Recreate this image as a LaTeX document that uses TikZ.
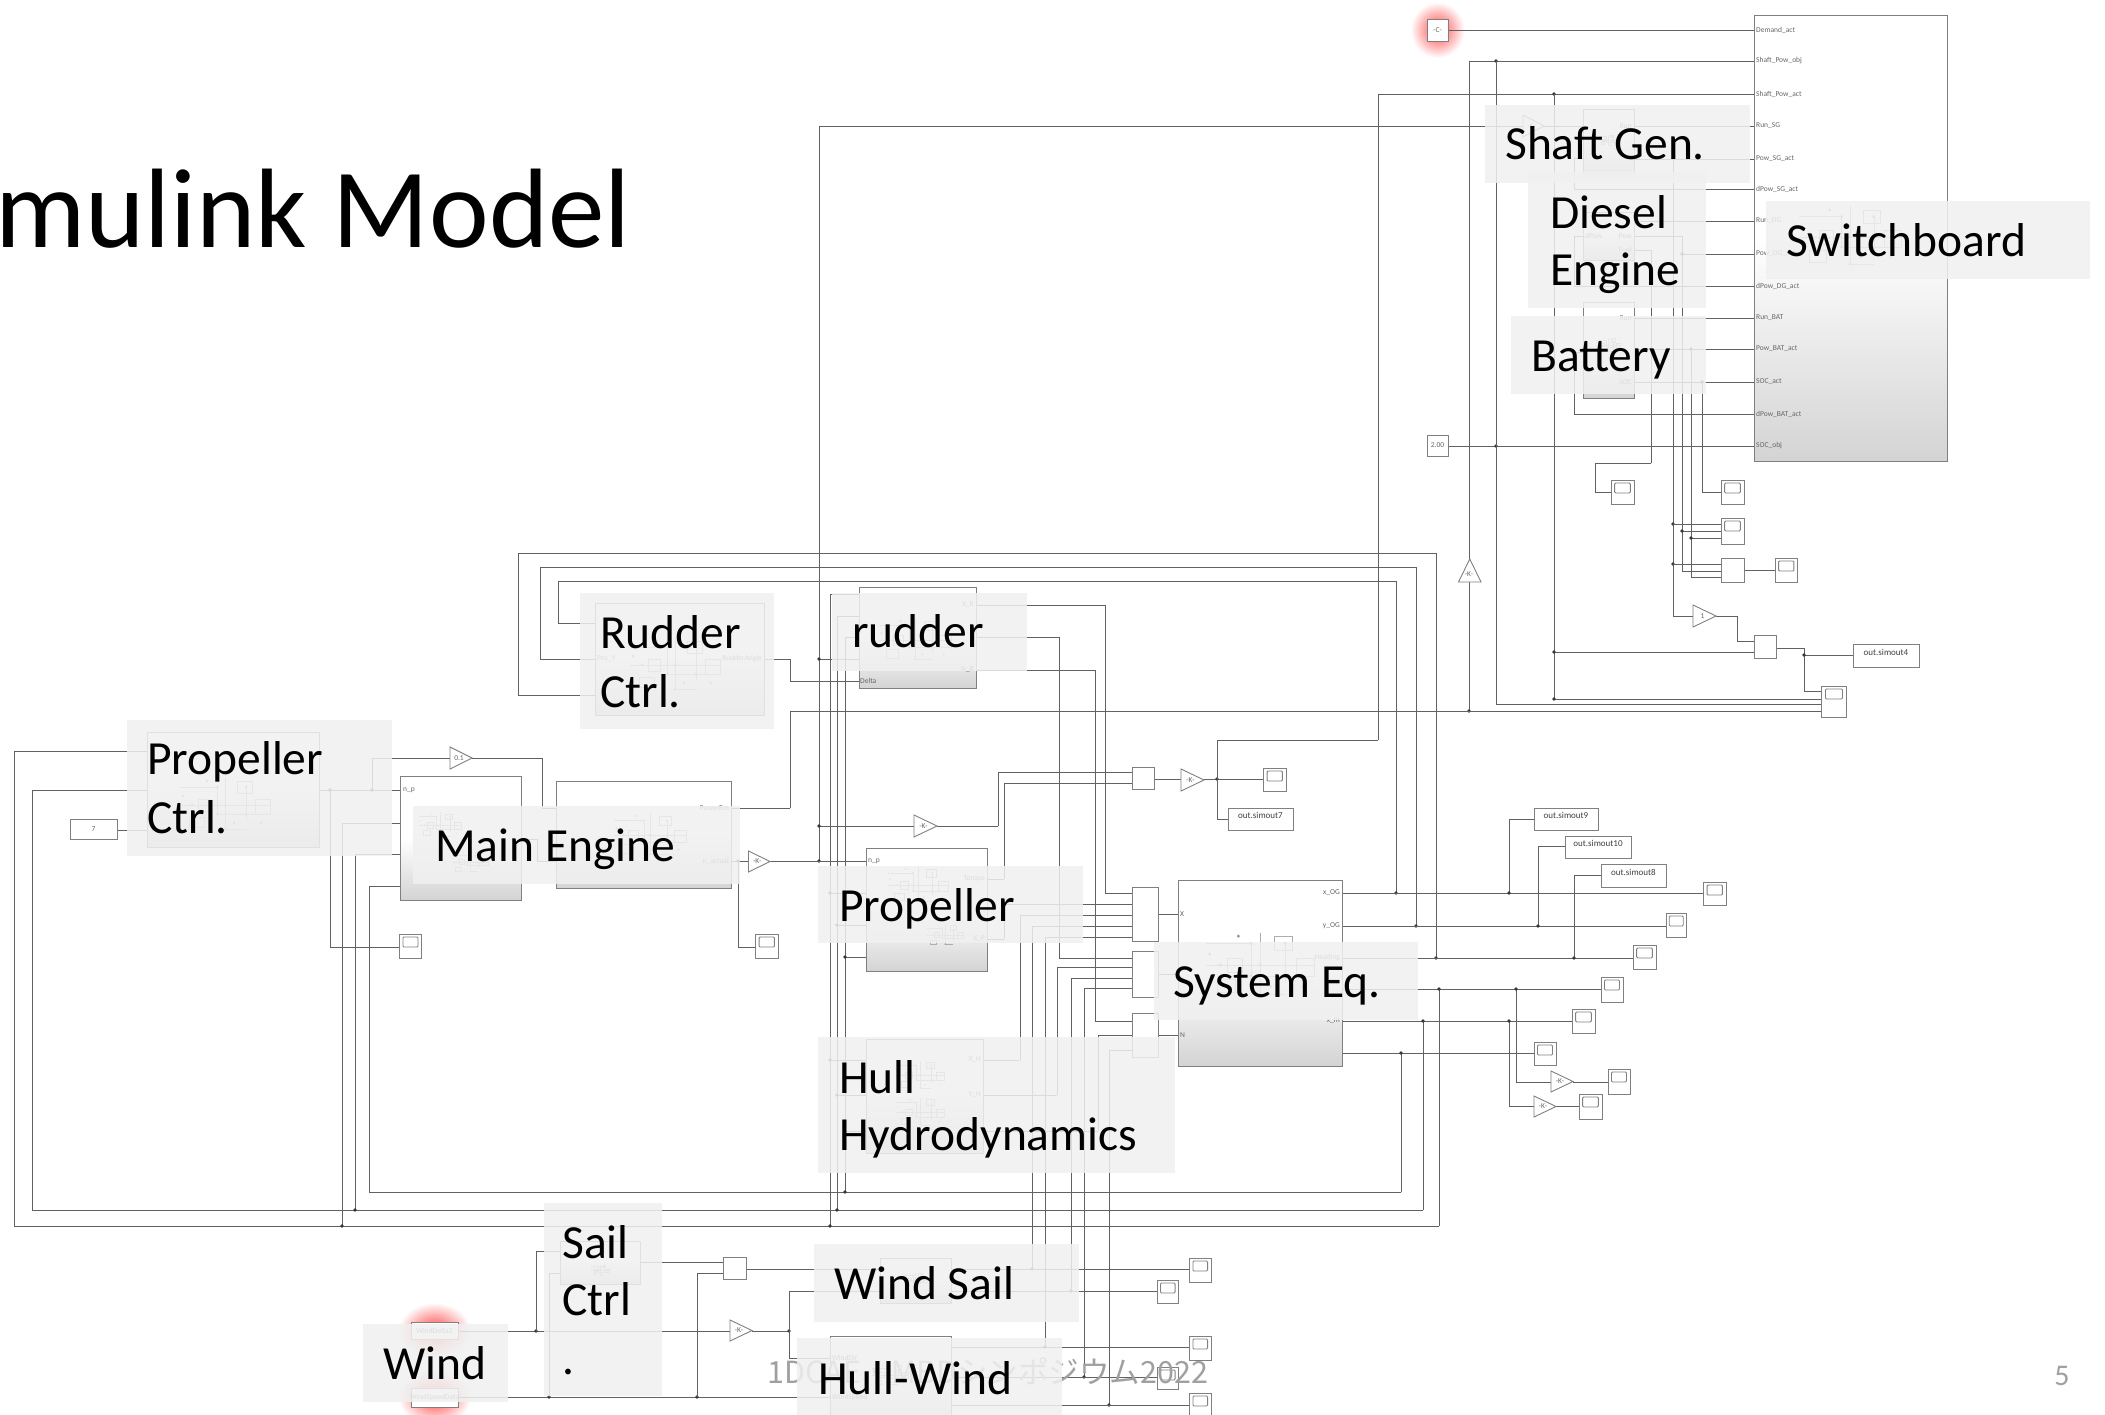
\documentclass[tikz,border=0pt]{standalone}
\usepackage{fontspec}
\setmainfont{Carlito}
\newfontfamily\cjk{Noto Sans CJK JP}
\usetikzlibrary{fit,calc}
\pgfdeclarelayer{wirelayer}
\pgfdeclarelayer{glowlayer}
\pgfsetlayers{glowlayer,wirelayer,main}
\definecolor{shd}{HTML}{F0F0F0}
\definecolor{ftr}{HTML}{A0A0A0}
\tikzset{
  sub/.style={draw=black!50,line width=.9pt,inner sep=0pt,outer sep=0pt,top color=white,bottom color=black!17,middle color=white},
  plainblk/.style={draw=black!50,line width=.9pt,fill=white,inner sep=0pt,outer sep=0pt},
  ghost/.style={inner sep=0pt,outer sep=0pt},
  blockedge/.style={draw=black!50,line width=.9pt,fill=white},
  wire/.style={draw=black!62,line width=.95pt,line cap=rect},
  dotc/.style={fill=black!78},
  faint/.style={draw=black!32,line width=.5pt},
  shade box/.style={fill=shd,fill opacity=.86,draw=none},
  lab/.style={font=\fontsize{47.5}{58}\selectfont,text=black,inner sep=0pt,anchor=base west,xshift=-1pt,yshift=-1.5pt},
  tiny/.style={font=\fontsize{7.5}{8}\selectfont,text=black!60,inner sep=0pt},
  blocktxt/.style={font=\fontsize{9}{10}\selectfont,text=black!75},
}
\newcommand\Blk[5][sub]{\node[#1,fit={(#3)(#4)}] (#2) {#5};}
\newcommand\Scp[3]{\node[plainblk,fit={(#2)(#3)}] (#1) {};
  \draw[draw=black!50,line width=.9pt,rounded corners=1pt] ($(#1.north west)!.16!(#1.north east)+(0,3)$) rectangle ($(#1.north east)!.16!(#1.north west)+(0,13)$);}
\newcommand\Gain[4]{\node[ghost,fit={(#2)(#3)}] (#1) {};
  \draw[blockedge] (#1.north west) -- (#1.east) -- (#1.south west) -- cycle;
  \node[tiny] (#1t) at ($(#1.center)+(-2,0)$) {#4};}
\newcommand\HL[3]{\draw[wire] (#1 |- 0,#3) -- (#2 |- 0,#3);}
\newcommand\VL[3]{\draw[wire] (#1 |- 0,#2) -- (#1 |- 0,#3);}
\newcommand\DT[2]{\fill[dotc] (#1 |- 0,#2) circle (1.9pt);}
% faint preview of a subsystem's inside
\newcommand\Inner[3]{\begin{scope}[shift={(#1,#2)},scale=#3]
  \draw[faint] (-30,-12) -- (-5,-12) -- (-5,6) -- (20,6) (-30,0) -- (30,0) (0,-18) -- (0,16) -- (14,16) (14,-12) -- (14,10);
  \draw[faint] (-18,-4) rectangle (-10,4) (8,-16) rectangle (18,-8) (20,-4) rectangle (30,6) (-24,8) rectangle (-14,15);
  \foreach \p in {(-5,-12),(0,0),(-5,6),(0,16),(14,-12),(-22,0),(14,6),(-28,-6),(6,12),(24,12),(-12,-16)}
    {\fill[black!42] \p circle (.9pt);}
\end{scope}}
\begin{document}
\begin{tikzpicture}[x=1pt,y=-1pt]
\useasboundingbox (0,0) rectangle (2105,1415);
\clip (0,0) rectangle (2105,1415);

% ---- bus positions
\foreach \v in {14,32,330,342,355,369,372,518,536,537,540,542,549,558,697,738,789,790,819,830,837,845,998,1004,1020,1032,1045,1057,1059,1071,1084,1095,1098,1105,1109,1217,1378,1396,1401,1416,1423,1436,1439,1469,1496,1509,1516,1538,1554,1574,1595,1651,1673,1682,1691,1702,1737,1804}
  {\coordinate (x\v) at (\v,0);}

% ---- blocks
\Blk{sb}{1754,15}{1947,461}{}
\Blk{sg}{1583,109}{1634,174}{}
\Blk{dg}{1583,212}{1634,260}{}
\Blk{bt}{1583,302}{1634,398}{}
\Blk{rc}{595,603}{764,715}{}
\Blk{rd}{859,587}{976,688}{}
\Blk{pc}{147.5,732}{319,847}{}
\Blk{meA}{400.5,776}{521.5,900}{}
\Blk{meB}{556,781}{731.5,888}{}
\Blk{pr}{866,848}{987,971}{}
\Blk{hl}{866,1039}{983.5,1153}{}
\Blk{sq}{1178,880}{1342,1066}{}
\Blk{sc}{560,1241}{640,1284}{}
\Blk{ws}{880,1258}{951,1303}{}
\Blk{hw}{830,1336}{951,1430}{}
\Blk[plainblk]{ca}{1427,19}{1448,41}{}
\Blk[plainblk]{cb}{1427,435}{1448,456}{}
\Blk[plainblk]{ck}{70,819}{117,839}{}
\Blk[plainblk]{wa}{411,1322}{458,1339}{}
\Blk[plainblk]{wb}{411,1388}{458,1407}{}
\Blk[plainblk]{mx}{1132,767}{1154.5,789}{}
\Blk[plainblk]{ma}{1132.5,887}{1158,941}{}
\Blk[plainblk]{mb}{1132.5,951}{1158,997}{}
\Blk[plainblk]{mc}{1132.5,1013}{1158,1057}{}
\Blk[plainblk]{md}{723.5,1257}{746,1279}{}
\Blk[plainblk]{sm}{1721,558}{1744,582}{}
\Blk[plainblk]{se}{1754,635}{1776,658}{}
\Blk[plainblk,blocktxt]{oa}{1853,644}{1919,667}{out.simout4}
\Blk[plainblk,blocktxt]{ob}{1534,808}{1598,830}{out.simout9}
\Blk[plainblk,blocktxt]{oc}{1565,836}{1631,858}{out.simout10}
\Blk[plainblk,blocktxt]{od}{1601,864}{1666,887}{out.simout8}
\Blk[plainblk,blocktxt]{oe}{1228,808}{1293,830}{out.simout7}
\Scp{sa}{1611,480}{1634,504}
\Scp{sB}{1721,480}{1744,504}
\Scp{sC}{1721,518}{1744,544}
\Scp{sD}{1775,558}{1797.5,582}
\Scp{sE}{1821.5,686}{1846.5,717}
\Scp{sF}{1633,945}{1656,969}
\Scp{sG}{1666,913}{1686.5,937}
\Scp{sH}{1703.5,882}{1726,905}
\Scp{sI}{1601,977}{1623,1002}
\Scp{sJ}{1572,1009}{1595,1033}
\Scp{sK}{1534,1042}{1556,1065}
\Scp{sL}{1608,1069}{1630,1094}
\Scp{sM}{1579,1094}{1602,1119}
\Scp{sN}{399.5,934}{421.5,958}
\Scp{sO}{755.5,934}{778,958}
\Scp{sP}{1263.5,768}{1286,791}
\Scp{sQ}{1189.5,1258}{1211,1282}
\Scp{sR}{1157,1280}{1178.5,1303}
\Scp{sS}{1189.5,1336}{1211,1360}
\Scp{sT}{1157,1367}{1178.5,1389}
\Scp{sU}{1189.5,1393}{1211,1417}
\Gain{ga}{1523,115}{1544,137}{-K-}
\Gain{gb}{1693,605}{1716,627}{1}
\Gain{gc}{450,747}{472,769}{0.1}
\Gain{gd}{748.5,851}{770,872}{-K-}
\Gain{ge}{914,815}{937,837}{-K-}
\Gain{gf}{1181,769}{1204,791}{-K-}
\Gain{gg}{1551,1071}{1573,1092}{-K-}
\Gain{gh}{1534,1096}{1556,1117}{-K-}
\Gain{gi}{730,1320}{752,1341}{-K-}
\node[ghost,fit={(1458.5,559)(1481,582)}] (gj) {};
\draw[blockedge] (gj.south west) -- (gj.north) -- (gj.south east) -- cycle;
\node[tiny] (gjt) at (1469,574) {-K-};

% ---- inside previews
\Inner{1850}{237}{1.7}
\Inner{1260}{965}{1.8}
\Inner{440}{825}{.7}
\Inner{470}{862}{.6}
\Inner{650}{835}{1.2}
\Inner{225}{805}{1.5}
\Inner{675}{665}{1.5}
\Inner{915}{640}{1.2}
\Inner{918}{885}{1}
\Inner{945}{935}{.6}
\Inner{920}{1075}{.8}
\Inner{920}{1112}{.8}
\Inner{1608}{140}{.3}
\Inner{1608}{345}{.4}
\Inner{915}{1280}{.4}
\Inner{890}{1375}{.6}
\Inner{600}{1270}{.3}

% ---- glows
\begin{pgfonlayer}{glowlayer}
\fill[white] (0,0) rectangle (2105,1415);
\shade[inner color=red!72,outer color=white] (ca.center) ellipse (27pt and 28pt);
\shade[inner color=red!72,outer color=white] (wa.center) ellipse (36pt and 28pt);
\shade[inner color=red!72,outer color=white] (wb.center) ellipse (36pt and 28pt);
\end{pgfonlayer}

% ---- wires
\begin{pgfonlayer}{wirelayer}
% switchboard inputs
\HL{ca.east}{sb.west}{30}
\HL{x1469}{sb.west}{61} \DT{x1496}{61}
\HL{x1378}{sb.west}{94} \DT{x1554}{94}
\HL{x819}{ga.west}{126} \HL{ga.east}{sg.west}{126} \HL{sg.east}{sb.west}{126}
\HL{sg.east}{sb.west}{159}
\HL{x1574}{sg.west}{158} \VL{x1574}{158}{189} \HL{x1574}{sb.west}{189}
\HL{dg.east}{sb.west}{221}
\HL{dg.east}{x1682}{236} \VL{x1682}{236}{571} \HL{x1682}{sb.west}{254} \DT{x1682}{254}
\HL{x1574}{dg.west}{236} \VL{x1574}{236}{286} \HL{x1574}{sb.west}{286}
\HL{dg.east}{x1651}{250} \VL{x1651}{250}{463} \HL{x1595}{x1651}{463} \VL{x1595}{463}{492} \HL{x1595}{sa.west}{492}
\HL{bt.east}{sb.west}{318}
\HL{bt.east}{sb.west}{349} \DT{x1691}{349} \VL{x1691}{349}{577}
\HL{bt.east}{sb.west}{382} \DT{x1702}{382} \VL{x1702}{382}{492} \HL{x1702}{sB.west}{492}
\VL{x1574}{352}{414} \HL{x1574}{bt.west}{352} \HL{x1574}{sb.west}{414}
\HL{cb.east}{sb.west}{446} \DT{x1496}{446}
% verticals to the big scope
\VL{x1469}{61}{711} \DT{x1469}{711}
\VL{x1496}{61}{704} \HL{x1496}{sE.west}{704}
\VL{x1554}{94}{699} \HL{x1554}{sE.west}{699} \DT{x1554}{699}
\VL{x1673}{159}{616} \DT{x1673}{524} \DT{x1673}{564}
\HL{x1673}{sC.west}{524} \HL{x1682}{sC.west}{531} \DT{x1682}{531} \HL{x1691}{sC.west}{538} \DT{x1691}{538}
\HL{x1673}{sm.west}{564} \HL{x1682}{sm.west}{571} \HL{x1691}{sm.west}{577}
\HL{sm.east}{sD.west}{570}
\HL{x1673}{gb.west}{616} \HL{gb.east}{x1737}{616} \VL{x1737}{616}{641} \HL{x1737}{se.west}{641}
\HL{x1554}{se.west}{652} \DT{x1554}{652}
\HL{se.east}{x1804}{648} \VL{x1804}{648}{691} \HL{x1804}{sE.west}{691} \HL{x1804}{oa.west}{655} \DT{x1804}{655}
% long line
\HL{x790}{sE.west}{711} \VL{x790}{711}{808} \HL{meB.east}{x790}{808}
% feedback loops, top
\HL{x518}{x1436}{553} \VL{x518}{553}{695} \HL{x518}{rc.west}{695} \VL{x1436}{553}{958} \DT{x1436}{958}
\HL{x540}{x1416}{567} \VL{x540}{567}{659} \HL{x540}{rc.west}{659} \VL{x1416}{567}{926} \DT{x1416}{926}
\HL{x558}{x1396}{581} \VL{x558}{581}{623} \HL{x558}{rc.west}{623} \VL{x1396}{581}{893} \DT{x1396}{893}
% system outputs
\HL{sq.east}{sH.west}{893} \HL{sq.east}{sG.west}{926} \HL{sq.east}{sF.west}{958}
\HL{sq.east}{sI.west}{989} \HL{sq.east}{sJ.west}{1021} \HL{sq.east}{sK.west}{1053}
\VL{x1509}{819}{893} \HL{x1509}{ob.west}{819} \DT{x1509}{893}
\VL{x1538}{846}{926} \HL{x1538}{oc.west}{846} \DT{x1538}{926}
\VL{x1574}{875}{958} \HL{x1574}{od.west}{875} \DT{x1574}{958}
\VL{x1516}{989}{1082} \DT{x1516}{989} \HL{x1516}{gg.west}{1082} \HL{gg.east}{sL.west}{1082}
\VL{x1509}{1021}{1106} \DT{x1509}{1021} \HL{x1509}{gh.west}{1106} \HL{gh.east}{sM.west}{1106}
% bottom loops
\VL{x1401}{1053}{1192} \DT{x1401}{1053} \HL{x369}{x1401}{1192} \VL{x369}{886}{1192} \HL{x369}{meA.west}{886}
\VL{x1423}{1021}{1210} \DT{x1423}{1021} \HL{x32}{x1423}{1210} \VL{x355}{854}{1210} \HL{x355}{meA.west}{854} \DT{x355}{1210}
\VL{x1439}{989}{1226} \DT{x1439}{989} \HL{x14}{x1439}{1226} \VL{x342}{823}{1226} \HL{x342}{meA.west}{823} \DT{x342}{1226}
\VL{x14}{751}{1226} \VL{x32}{790}{1210}
% plant buses
\VL{x830}{594}{1226} \HL{x830}{rd.west}{594} \HL{x830}{pr.west}{893} \HL{x830}{hl.west}{1060} \DT{x830}{893} \DT{x830}{1060} \DT{x830}{1226}
\VL{x837}{616}{1210} \HL{x837}{rd.west}{616} \HL{x837}{pr.west}{925} \HL{x837}{hl.west}{1095} \DT{x837}{925} \DT{x837}{1095} \DT{x837}{1210}
\VL{x845}{637}{1192} \HL{x845}{rd.west}{637} \HL{x845}{pr.west}{957} \HL{x845}{hl.west}{1131} \DT{x845}{957} \DT{x845}{1131} \DT{x845}{1192}
\VL{x819}{126}{861} \HL{x819}{rd.west}{659} \HL{x819}{ge.west}{826} \DT{x819}{659} \DT{x819}{826} \DT{x819}{861}
\HL{gd.east}{pr.west}{861} \HL{meB.east}{gd.west}{861} \DT{x738}{861} \VL{x738}{861}{947} \HL{x738}{sO.west}{947}
\HL{rc.east}{x790}{659} \VL{x790}{659}{681} \HL{x790}{rd.west}{681}
% propeller control
\HL{x14}{pc.west}{751} \HL{x32}{pc.west}{790} \HL{ck.east}{pc.west}{830}
\HL{pc.east}{meA.west}{790} \DT{x330}{790} \DT{x372}{790}
\VL{x372}{758}{790} \HL{x372}{gc.west}{758} \HL{gc.east}{x542}{758} \VL{x542}{758}{808} \HL{x542}{meB.west}{808}
\VL{x330}{790}{947} \HL{x330}{sN.west}{947}
\HL{meA.east}{x537}{839} \VL{x537}{839}{861} \HL{x537}{meB.west}{861}
% rudder outputs
\HL{rd.east}{x1105}{605} \VL{x1105}{605}{893} \HL{x1105}{ma.west}{893}
\HL{rd.east}{x1059}{637} \VL{x1059}{637}{958} \HL{x1059}{mb.west}{958}
\HL{rd.east}{x1095}{670} \VL{x1095}{670}{1021} \HL{x1095}{mc.west}{1021}
\HL{ge.east}{x998}{826} \VL{x998}{772}{826} \HL{x998}{mx.west}{772}
\HL{pr.east}{x1004}{879} \VL{x1004}{783}{879} \HL{x1004}{mx.west}{783}
\HL{mx.east}{gf.west}{779} \HL{gf.east}{sP.west}{779} \DT{x1217}{779}
\VL{x1217}{740}{819} \HL{x1217}{oe.west}{819} \HL{x1217}{x1378}{740} \VL{x1378}{94}{740}
% mux inputs
\HL{pr.east}{x1004}{939} \VL{x1004}{904}{939} \HL{x1004}{ma.west}{904}
\HL{hl.east}{x1020}{1060} \VL{x1020}{915}{1060} \HL{x1020}{ma.west}{915}
\VL{x1032}{926}{1269} \HL{x1032}{ma.west}{926} \DT{x1032}{1269}
\VL{x1045}{937}{1347} \HL{x1045}{ma.west}{937} \DT{x1045}{1347}
\HL{hl.east}{x1057}{1095} \VL{x1057}{967}{1095} \HL{x1057}{mb.west}{967}
\VL{x1071}{978}{1291} \HL{x1071}{mb.west}{978} \DT{x1071}{1291}
\VL{x1084}{988}{1377} \HL{x1084}{mb.west}{988} \DT{x1084}{1377}
\HL{hl.east}{x1098}{1131} \VL{x1098}{1035}{1131} \HL{x1098}{mc.west}{1035}
\VL{x1109}{1050}{1405} \HL{x1109}{mc.west}{1050} \DT{x1109}{1405}
\HL{ma.east}{sq.west}{914} \HL{mb.east}{sq.west}{974} \HL{mc.east}{sq.west}{1035}
% wind part
\HL{wa.east}{gi.west}{1331} \DT{x536}{1331} \VL{x536}{1251}{1331} \HL{x536}{sc.west}{1251}
\HL{wb.east}{hw.west}{1397} \DT{x549}{1397} \DT{x697}{1397}
\VL{x549}{1273}{1397} \HL{x549}{sc.west}{1273} \VL{x697}{1273}{1397} \HL{x697}{md.west}{1273}
\HL{sc.east}{md.west}{1262} \HL{md.east}{ws.west}{1269}
\HL{gi.east}{x789}{1331} \DT{x789}{1331} \VL{x789}{1291}{1358} \HL{x789}{ws.west}{1291} \HL{x789}{hw.west}{1358}
\HL{ws.east}{sQ.west}{1269} \HL{ws.east}{sR.west}{1291}
\HL{hw.east}{sS.west}{1347} \HL{hw.east}{sT.west}{1377} \HL{hw.east}{sU.west}{1405}
\end{pgfonlayer}

% ---- tiny port labels
\foreach \n/\y/\t in {a/30/Demand\_act,b/61/Shaft\_Pow\_obj,c/94/Shaft\_Pow\_act,d/126/Run\_SG,e/159/Pow\_SG\_act,f/189/dPow\_SG\_act,g/221/Run\_DG,h/254/Pow\_DG\_act,i/286/dPow\_DG\_act,j/318/Run\_BAT,k/349/Pow\_BAT\_act,l/382/SOC\_act,m/414/dPow\_BAT\_act,n/446/SOC\_obj}
  {\node[tiny,anchor=west] (sbp\n) at (1756,\y) {\t};}
\node[tiny] (cat) at (ca.center) {-C-};
\node[tiny] (cbt) at (cb.center) {2.00};
\node[tiny] (ckt) at (ck.center) {7};
\node[tiny,anchor=east] (sgr) at (1632,126) {Run};
\node[tiny,anchor=east] (dgp) at (1632,236) {Pow};
\node[tiny,anchor=east] (dgf) at (1632,250) {Fuel};
\node[tiny,anchor=west] (dgd) at (1585,236) {dPow};
\node[tiny,anchor=east] (btr) at (1632,318) {Run};
\node[tiny,anchor=east] (bts) at (1632,382) {SOC};
\node[tiny,anchor=west] (rdd) at (860,681) {Delta};
\node[tiny,anchor=east] (rdx) at (974,605) {X\_R};
\node[tiny,anchor=east] (rdn) at (974,670) {N\_R};
\node[tiny,anchor=east] (rca) at (762,659) {RudderAngle};
\node[tiny,anchor=west] (rcy) at (597,659) {Pos\_Y};
\node[tiny,anchor=west] (mep) at (403,790) {n\_p};
\node[tiny,anchor=east] (mbp) at (729,808) {PowerEm};
\node[tiny,anchor=east] (mbn) at (729,861) {n\_actual};
\node[tiny,anchor=west] (prn) at (868,861) {n\_p};
\node[tiny,anchor=east] (prt) at (985,879) {Torque};
\node[tiny,anchor=east] (prx) at (985,939) {X\_P};
\node[tiny,anchor=east] (hlx) at (981,1060) {X\_H};
\node[tiny,anchor=east] (hly) at (981,1095) {Y\_H};
\node[tiny,anchor=east] (sqa) at (1340,893) {x\_OG};
\node[tiny,anchor=east] (sqb) at (1340,926) {y\_OG};
\node[tiny,anchor=east] (sqc) at (1340,958) {Heading};
\node[tiny,anchor=east] (sqd) at (1340,1021) {x\_m};
\node[tiny,anchor=west] (sqx) at (1180,914) {X};
\node[tiny,anchor=west] (sqn) at (1180,1035) {N};
\node[tiny] (wat) at (wa.center) {WindDelta2};
\node[tiny] (wbt) at (wb.center) {WindSpeedData};
\node[tiny,anchor=west] (hwd) at (832,1358) {WindDir};
\node[tiny,anchor=west] (hws) at (832,1397) {WindSpeed};

% ---- footer under the label panels
\node[inner sep=0pt,anchor=base west,text=ftr,font=\cjk\fontsize{30.5}{34}\selectfont] (ftext) at (767,1383) {1DCAE・MBDシンポジウム2022};
\node[inner sep=0pt,anchor=base,text=ftr,font=\fontsize{30}{34}\selectfont] (pageno) at (2062,1385) {5};

% ---- label panels
\foreach \a/\b in {{1485,105}/{1750,183},{1528,172}/{1706,308},{1511,316}/{1706,394},{1766,201}/{2090,279},{580,593}/{774,729},{832,593}/{1027,671},{127,720}/{392,856},{413,806}/{740,884},{818,866}/{1083,943},{818,1037}/{1175,1173},{1154,942}/{1418,1020},{544,1203}/{662,1396},{363,1324}/{508,1402},{814,1244}/{1079,1322},{797,1338}/{1062,1415}}
  {\fill[shade box] (\a) rectangle (\b);}

% ---- labels
\node[lab] (tA) at (1506,158) {Shaft Gen.};
\node[lab] (tB) at (1551,227) {Diesel};
\node[lab] (tC) at (1551,284) {Engine};
\node[lab] (tD) at (1532,370) {Battery};
\node[lab] (tE) at (1787,255) {Switchboard};
\node[lab] (tF) at (601,647) {Rudder};
\node[lab] (tG) at (601,706) {Ctrl.};
\node[lab] (tH) at (853,646) {rudder};
\node[lab] (tI) at (148,773) {Propeller};
\node[lab] (tJ) at (148,832) {Ctrl.};
\node[lab] (tK) at (436,860) {Main Engine};
\node[lab] (tL) at (840,920) {Propeller};
\node[lab] (tM) at (840,1092) {Hull};
\node[lab] (tN) at (840,1149) {Hydrodynamics};
\node[lab] (tO) at (1174,996) {System Eq.};
\node[lab] (tP) at (563,1257) {Sail};
\node[lab] (tQ) at (563,1314) {Ctrl};
\node[lab] (tR) at (563,1373) {.};
\node[lab] (tS) at (384,1378) {Wind};
\node[lab] (tT) at (835,1298) {Wind Sail};
\node[lab] (tU) at (819,1393) {Hull-Wind};
\node[inner sep=0pt,anchor=base east,font=\fontsize{113}{120}\selectfont] (title) at (631,248) {mulink Model};
\end{tikzpicture}
\end{document}
